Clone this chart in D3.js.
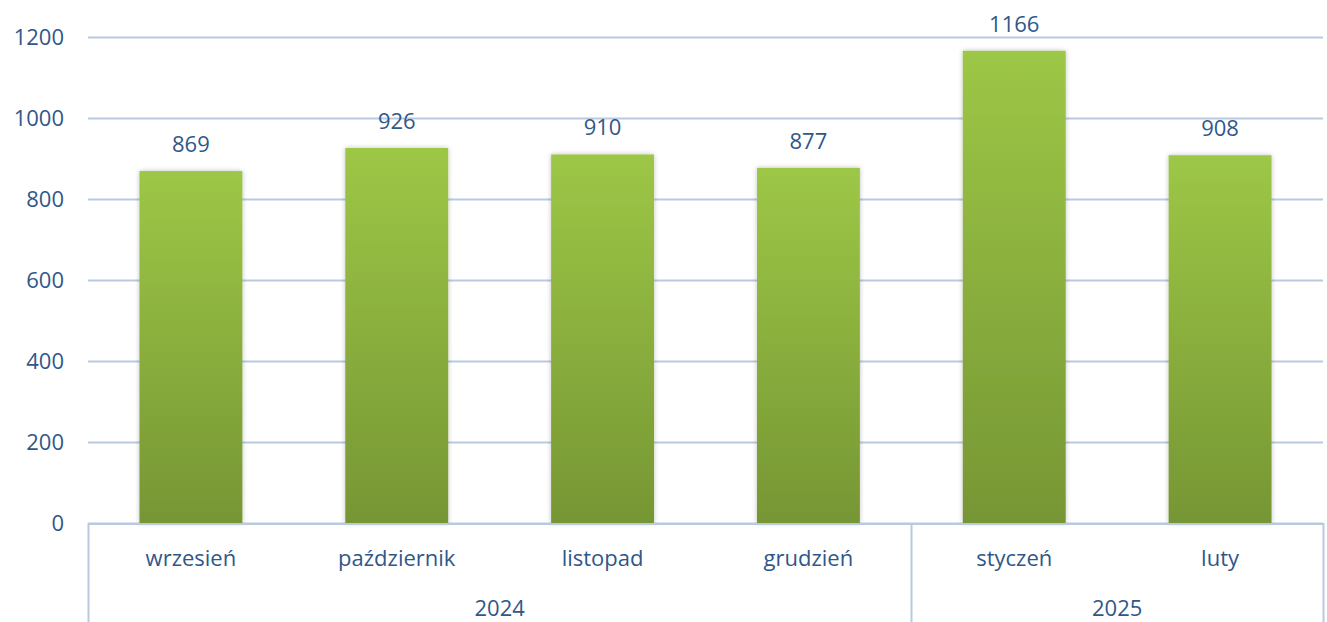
<!DOCTYPE html>
<html><head><meta charset="utf-8">
<script src="https://cdn.jsdelivr.net/npm/d3@7"></script>
<style>body{margin:0;background:#fff;}svg{display:block;font-family:"Open Sans",sans-serif;}</style>
</head><body>
<svg id="c" width="1327" height="622"></svg>
<script>
const months = ["wrzesień","październik","listopad","grudzień","styczeń","luty"];
const years = ["2024","2024","2024","2024","2025","2025"];
const values = [869, 926, 910, 877, 1166, 908];
const yTicks = [0, 200, 400, 600, 800, 1000, 1200];

(function(){
const svg = d3.select("#c");
const mLeft = 88, mRight = 1323, mTop = 37, mBottom = 523;
const textColor = "#30578a", gridColor = "#b8c9e0";
const fs = "22px";

const x = d3.scaleBand().domain(d3.range(months.length)).range([mLeft, mRight]).paddingInner(0.5).paddingOuter(0.25);
const y = d3.scaleLinear().domain([0, 1200]).range([mBottom, mTop]);

const defs = svg.append("defs");
const g = defs.append("linearGradient").attr("id","grad").attr("x1",0).attr("y1",0).attr("x2",0).attr("y2",1);
g.append("stop").attr("offset","0%").attr("stop-color","#9dc746");
g.append("stop").attr("offset","100%").attr("stop-color","#769634");
const f = defs.append("filter").attr("id","sh").attr("x","-20%").attr("y","-20%").attr("width","140%").attr("height","140%");
f.append("feGaussianBlur").attr("in","SourceAlpha").attr("stdDeviation",2.5);
f.append("feComponentTransfer").append("feFuncA").attr("type","linear").attr("slope",0.25);
const fm = f.append("feMerge"); fm.append("feMergeNode"); fm.append("feMergeNode").attr("in","SourceGraphic");

// gridlines
svg.append("g").selectAll("line").data(yTicks).join("line")
  .attr("x1", mLeft).attr("x2", mRight).attr("y1", d=>y(d)+0.5).attr("y2", d=>y(d)+0.5)
  .attr("stroke", gridColor).attr("stroke-width", 2);

// y axis labels
const ya = svg.append("g").attr("transform",`translate(${mLeft},0)`)
  .call(d3.axisLeft(y).tickValues(yTicks).tickFormat(d3.format("d")).tickSize(0).tickPadding(24));
ya.select(".domain").remove();
ya.selectAll("text").attr("fill", textColor).style("font-size",fs).style("font-family","'Open Sans',sans-serif");

// bars
svg.append("g").selectAll("rect").data(values).join("rect")
  .attr("x",(d,i)=>x(i)).attr("width",x.bandwidth())
  .attr("y",d=>y(d)).attr("height",d=>y(0)-y(d))
  .attr("fill","url(#grad)").attr("filter","url(#sh)");

// value labels
svg.append("g").selectAll("text").data(values).join("text")
  .attr("x",(d,i)=>x(i)+x.bandwidth()/2).attr("y",d=>y(d)-19)
  .attr("text-anchor","middle").attr("fill",textColor).style("font-size",fs).text(d=>d);

// category axis box
const step = x.step();
const xa = svg.append("g");
xa.append("line").attr("x1",mLeft).attr("x2",mRight).attr("y1",mBottom+1).attr("y2",mBottom+1).attr("stroke",gridColor).attr("stroke-width",2);
const groups = [];
years.forEach((yr,i)=>{ if(!groups.length||groups[groups.length-1].year!==yr) groups.push({year:yr,start:i,end:i}); else groups[groups.length-1].end=i; });
const bounds = [mLeft, ...groups.map(gr=>mLeft+step*(gr.end+1))];
xa.selectAll("line.v").data(bounds).join("line").attr("class","v")
  .attr("x1",d=>Math.round(d)+0.5).attr("x2",d=>Math.round(d)+0.5).attr("y1",mBottom).attr("y2",622)
  .attr("stroke",gridColor).attr("stroke-width",2);
xa.selectAll("text.m").data(months).join("text").attr("class","m")
  .attr("x",(d,i)=>x(i)+x.bandwidth()/2).attr("y",566)
  .attr("text-anchor","middle").attr("fill",textColor).style("font-size",fs).text(d=>d);
xa.selectAll("text.yr").data(groups).join("text").attr("class","yr")
  .attr("x",d=>mLeft+step*(d.start+d.end+1)/2).attr("y",616)
  .attr("text-anchor","middle").attr("fill",textColor).style("font-size",fs).text(d=>d.year);
})();
</script>
</body></html>
